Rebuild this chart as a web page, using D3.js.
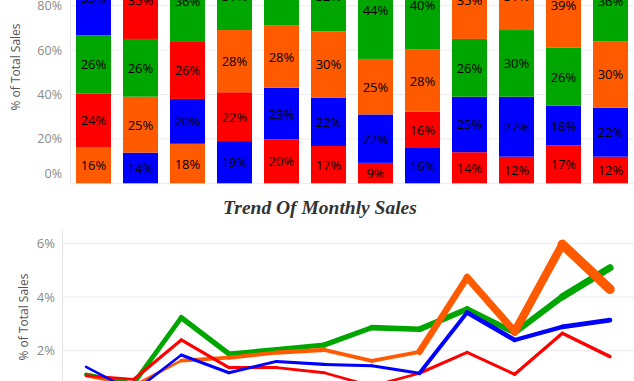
<!DOCTYPE html>
<html><head><meta charset="utf-8">
<script src="https://cdn.jsdelivr.net/npm/d3@7"></script>
<style>body{margin:0;background:#fff;} svg{display:block;font-family:"Open Sans",sans-serif;}</style>
</head><body><svg id="c" width="634" height="381"></svg>
<script>
// ---- data ----
const months = ["Jan","Feb","Mar","Apr","May","Jun","Jul","Aug","Sep","Oct","Nov","Dec"];
const seriesNames = ["Blue","Red","Green","Orange"];
const seriesColors = ["#0000ff","#ff0000","#00a600","#ff5a00"];
// share of each month's sales (%)
const shareBlue   = [33.4,13.8,20.2,19.0,23.2,21.8,21.8,15.9,25.0,27.0,18.0,22.0];
const shareRed    = [24.2,35.0,26.0,22.0,19.8,16.8, 9.2,16.3,14.0,12.0,17.0,12.0];
const shareGreen  = [26.1,26.0,36.0,31.0,29.0,31.6,44.0,39.8,26.0,30.0,26.0,36.0];
const shareOrange = [16.3,25.2,17.8,28.0,28.0,29.8,25.0,28.0,35.0,31.0,39.0,30.0];
// monthly trend (% of total sales)
const trendBlue   = [1.40,0.47,1.84,1.18,1.60,1.49,1.44,1.16,3.42,2.40,2.89,3.14];
const trendRed    = [1.07,0.93,2.40,1.37,1.37,1.18,0.68,1.16,1.94,1.12,2.65,1.78];
const trendGreen  = [1.12,0.78,3.23,1.88,2.05,2.21,2.86,2.80,3.55,2.67,4.01,5.09];
const trendOrange = [1.05,0.70,1.63,1.74,1.93,2.03,1.62,1.96,4.73,2.71,5.96,4.29];
const barTicks  = [0,0.2,0.4,0.6,0.8,1];
const lineTicks = [0.02,0.04,0.06];
const chartTitle = "Trend Of Monthly Sales";
const yTitle = "% of Total Sales";

const shares = [shareBlue, shareRed, shareGreen, shareOrange];
const trends = [trendBlue, trendRed, trendGreen, trendOrange];

const svg = d3.select("#c");
const gridColor = "#ececec";
const tickColor = "#8a8a8a";
const pct = d3.format(".0%");

// ---- top: 100% stacked bars ----
const x1 = d3.scaleBand().domain(months).range([70,634]).paddingInner(0.2553).paddingOuter(0.12765);
const y1 = d3.scaleLinear().domain([0,1]).range([183.3,-38.8]);

const gTop = svg.append("g");
gTop.selectAll("line.grid").data(barTicks).join("line")
  .attr("x1",70).attr("x2",634).attr("y1",d=>y1(d)).attr("y2",d=>y1(d))
  .attr("stroke",gridColor).attr("stroke-width",1);
gTop.append("line").attr("x1",70.5).attr("x2",70.5).attr("y1",-40).attr("y2",y1(0))
  .attr("stroke","#e4e4e4");

const axTop = gTop.append("g").attr("transform","translate(70,0)")
  .call(d3.axisLeft(y1).tickValues(barTicks).tickFormat(pct).tickSize(0).tickPadding(8));
axTop.select(".domain").remove();
axTop.selectAll("text").attr("fill",tickColor).style("font-size","12.5px")
  .style("font-family","'Open Sans',sans-serif")
  .attr("dy",d=>d===0?"-0.45em":"0.32em");

gTop.append("text").attr("transform","translate(15,67) rotate(-90)")
  .attr("text-anchor","middle").attr("dominant-baseline","central")
  .attr("fill","#555").style("font-size","12px").text(yTitle);

months.forEach((m,i)=>{
  const items = seriesNames.map((s,k)=>({s:k, v:shares[k][i]/100})).sort((a,b)=>a.v-b.v);
  let cum = 0;
  items.forEach(it=>{
    const y0 = y1(cum), yTop = y1(cum+it.v);
    gTop.append("rect").attr("x",x1(m)).attr("width",x1.bandwidth())
      .attr("y",yTop).attr("height",y0-yTop).attr("fill",seriesColors[it.s]);
    gTop.append("text").attr("x",x1(m)+x1.bandwidth()/2).attr("y",(y0+yTop)/2)
      .attr("text-anchor","middle").attr("dominant-baseline","central")
      .attr("fill","#000").style("font-size","13px").text(Math.round(it.v*100)+"%");
    cum += it.v;
  });
});

// ---- bottom: trend lines ----
const x2 = d3.scalePoint().domain(months).range([86,610]);
const y2 = d3.scaleLinear().domain([0,0.06]).range([404.4,243.3]);
const gBot = svg.append("g");

gBot.append("text").attr("x",320).attr("y",214).attr("text-anchor","middle")
  .style("font-family","'Liberation Serif','Times New Roman',serif")
  .style("font-weight","bold").style("font-style","italic").style("font-size","19.5px")
  .attr("fill","#333").text(chartTitle);

gBot.selectAll("line.grid").data(lineTicks).join("line")
  .attr("x1",62).attr("x2",634).attr("y1",d=>y2(d)).attr("y2",d=>y2(d))
  .attr("stroke",gridColor);
gBot.append("line").attr("x1",62.5).attr("x2",62.5).attr("y1",230).attr("y2",381).attr("stroke","#e4e4e4");

const axBot = gBot.append("g").attr("transform","translate(62,0)")
  .call(d3.axisLeft(y2).tickValues(lineTicks).tickFormat(pct).tickSize(0).tickPadding(7));
axBot.select(".domain").remove();
axBot.selectAll("text").attr("fill",tickColor).style("font-size","13px")
  .style("font-family","'Open Sans',sans-serif");

gBot.append("text").attr("transform","translate(23,317) rotate(-90)")
  .attr("text-anchor","middle").attr("dominant-baseline","central")
  .attr("fill","#555").style("font-size","12px").text(yTitle);

// line width grows with value (size encoding)
const widthScales = [
  d3.scaleLinear().domain([0,6]).range([1.4,8.0]),  // blue
  d3.scaleLinear().domain([0,6]).range([2.3,5.3]),  // red
  d3.scaleLinear().domain([0,6]).range([3.0,8.4]),  // green
  d3.scaleLinear().domain([0,6]).range([0.8,11.0])  // orange
];
const drawOrder = [2,3,1,0];
drawOrder.forEach(k=>{
  const vals = trends[k];
  const g = gBot.append("g");
  for(let i=0;i<vals.length-1;i++){
    g.append("line")
      .attr("x1",x2(months[i])).attr("y1",y2(vals[i]/100))
      .attr("x2",x2(months[i+1])).attr("y2",y2(vals[i+1]/100))
      .attr("stroke",seriesColors[k]).attr("stroke-linecap","round")
      .attr("stroke-width",widthScales[k]((vals[i]+vals[i+1])/2));
  }
});
</script></body></html>
